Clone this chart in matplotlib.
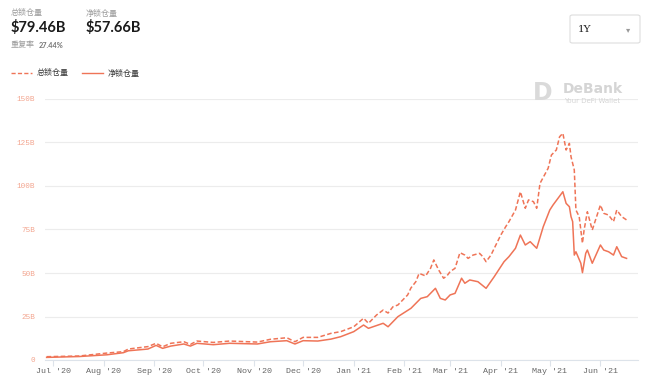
import matplotlib
matplotlib.use("Agg")
import matplotlib.pyplot as plt
import matplotlib.dates as mdates
from matplotlib.patches import FancyBboxPatch
import numpy as np

plt.rcParams['font.family'] = ['Noto Sans CJK SC', 'DejaVu Sans']

# data (billions USD)
total_dates = ["2020-06-27", "2020-07-17", "2020-08-03", "2020-08-13", "2020-08-16",
               "2020-08-28", "2020-09-02", "2020-09-06", "2020-09-11", "2020-09-19",
               "2020-09-23", "2020-09-27", "2020-10-07", "2020-10-17", "2020-11-03",
               "2020-11-11", "2020-11-21", "2020-11-26", "2020-12-01", "2020-12-10",
               "2020-12-18", "2020-12-24", "2021-01-01", "2021-01-07", "2021-01-10",
               "2021-01-15", "2021-01-19", "2021-01-22", "2021-01-25", "2021-01-28",
               "2021-01-31", "2021-02-03", "2021-02-05", "2021-02-08", "2021-02-10",
               "2021-02-14", "2021-02-17", "2021-02-19", "2021-02-22", "2021-02-25",
               "2021-02-27", "2021-03-01", "2021-03-04", "2021-03-07", "2021-03-10",
               "2021-03-12", "2021-03-15", "2021-03-19", "2021-03-21", "2021-03-23",
               "2021-03-26", "2021-03-29", "2021-04-01", "2021-04-04", "2021-04-06",
               "2021-04-10", "2021-04-13", "2021-04-16", "2021-04-18", "2021-04-21",
               "2021-04-23", "2021-04-25", "2021-04-30", "2021-05-02", "2021-05-05",
               "2021-05-07", "2021-05-09", "2021-05-11", "2021-05-13", "2021-05-14",
               "2021-05-16", "2021-05-17", "2021-05-19", "2021-05-21", "2021-05-22",
               "2021-05-24", "2021-05-27", "2021-05-29", "2021-06-01", "2021-06-03",
               "2021-06-06", "2021-06-09", "2021-06-11", "2021-06-14", "2021-06-17"]
total = [1.9, 2.3, 4.0, 4.8, 6.3, 7.7, 9.6, 7.6, 9.6, 10.5,
         9.0, 10.9, 10.1, 10.9, 10.3, 11.9, 12.8, 10.5, 13.0, 13.0,
         15.3, 16.3, 19.1, 24.0, 21.1, 25.9, 28.7, 27.0, 30.6, 31.6,
         34.5, 37.4, 41.4, 45.0, 49.8, 48.3, 52.7, 57.5, 51.7, 47.0,
         48.3, 50.8, 52.7, 61.7, 60.3, 58.4, 60.3, 61.3, 59.4, 56.5,
         60.3, 66.1, 71.8, 76.6, 79.5, 86.2, 96.7, 87.2, 92.0, 91.0,
         87.2, 101.5, 110.2, 117.8, 120.7, 128.3, 130.3, 120.7, 124.5, 116.8,
         109.2, 86.2, 82.4, 67.1, 74.7, 85.2, 74.7, 80.5, 89.1, 84.3,
         83.3, 79.5, 86.2, 82.4, 80.5]

net_dates = ["2020-06-27", "2020-07-17", "2020-08-03", "2020-08-13", "2020-08-16",
             "2020-08-28", "2020-09-02", "2020-09-06", "2020-09-11", "2020-09-19",
             "2020-09-23", "2020-09-27", "2020-10-07", "2020-10-17", "2020-11-03",
             "2020-11-11", "2020-11-21", "2020-11-26", "2020-12-01", "2020-12-10",
             "2020-12-18", "2020-12-24", "2021-01-01", "2021-01-07", "2021-01-10",
             "2021-01-19", "2021-01-22", "2021-01-28", "2021-02-05", "2021-02-11",
             "2021-02-15", "2021-02-20", "2021-02-23", "2021-02-26", "2021-03-01",
             "2021-03-04", "2021-03-08", "2021-03-10", "2021-03-13", "2021-03-18",
             "2021-03-23", "2021-03-28", "2021-04-03", "2021-04-06", "2021-04-10",
             "2021-04-13", "2021-04-16", "2021-04-19", "2021-04-23", "2021-04-27",
             "2021-05-01", "2021-05-03", "2021-05-06", "2021-05-09", "2021-05-11",
             "2021-05-13", "2021-05-14", "2021-05-15", "2021-05-16", "2021-05-17",
             "2021-05-20", "2021-05-21", "2021-05-23", "2021-05-24", "2021-05-27",
             "2021-06-01", "2021-06-03", "2021-06-06", "2021-06-09", "2021-06-11",
             "2021-06-14", "2021-06-17"]
net = [1.5, 2.0, 3.0, 4.2, 5.3, 6.3, 8.4, 6.7, 8.0, 9.2,
       8.0, 9.6, 8.8, 9.6, 9.2, 10.5, 11.1, 9.2, 11.1, 10.9,
       12.0, 13.4, 16.3, 20.1, 18.2, 21.1, 19.1, 24.9, 29.7, 35.4,
       36.4, 41.2, 35.4, 34.5, 37.4, 38.3, 47.0, 44.1, 46.0, 45.0,
       41.2, 47.9, 56.5, 59.4, 64.2, 71.8, 66.1, 68.0, 64.2, 76.6,
       86.2, 89.1, 92.9, 96.7, 90.0, 88.1, 82.4, 79.5, 60.3, 62.2,
       55.6, 50.2, 61.3, 63.2, 55.6, 66.1, 63.2, 62.2, 60.3, 65.1,
       59.4, 58.4]

yticks = [0, 25, 50, 75, 100, 125, 150]
ytick_labels = ["0", "25B", "50B", "75B", "100B", "125B", "150B"]

col = "#ef7457"

fig = plt.figure(figsize=(6.5, 3.88), dpi=100)
ax = fig.add_axes([45/650, 28/388, 593/650, 261/388])

ax.plot(np.array(total_dates, dtype="datetime64[D]"), total, color=col, lw=1.1,
        ls=(0, (3, 1.6)))
ax.plot(np.array(net_dates, dtype="datetime64[D]"), net, color=col, lw=1.1)

ax.set_ylim(0, 150)
ax.set_xlim(np.datetime64("2020-06-26"), np.datetime64("2021-06-24"))
ax.set_yticks(yticks)
ax.set_yticklabels(ytick_labels)
ax.grid(axis="y", color="#ececec", lw=0.8)
ax.set_axisbelow(True)
for s in ["top", "right", "left"]:
    ax.spines[s].set_visible(False)
ax.spines["bottom"].set_color("#dde3ea")
ax.tick_params(axis="y", length=0, pad=7, labelsize=5.5, labelcolor="#f3a58f")
ax.tick_params(axis="x", length=4, color="#dde3ea", pad=2, labelsize=6, labelcolor="#666666")
ax.xaxis.set_major_locator(mdates.MonthLocator())
ax.xaxis.set_major_formatter(mdates.DateFormatter("%b '%y"))
for t in ax.get_yticklabels() + ax.get_xticklabels():
    t.set_fontfamily("Liberation Mono")

# header
fig.text(11/650, 1 - 13/388, "总锁仓量", fontsize=5.8, color="#9a9a9a", va="center")
fig.text(11/650, 1 - 27/388, "$79.46B", fontsize=10.5, color="#1a1a1a", va="center",
         weight="bold", family="Lato")
fig.text(86/650, 1 - 13/388, "净锁仓量", fontsize=5.8, color="#9a9a9a", va="center")
fig.text(86/650, 1 - 27/388, "$57.66B", fontsize=10.5, color="#1a1a1a", va="center",
         weight="bold", family="Lato")
fig.text(11/650, 1 - 45/388, "重复率", fontsize=5.8, color="#9a9a9a", va="center")
fig.text(39/650, 1 - 45/388, "27.44%", fontsize=5.3, color="#777777", va="center",
         family="Lato", weight="bold")

# legend
fig.lines.append(plt.Line2D([11/650, 32/650], [1 - 73/388] * 2, color=col, lw=1,
                            ls=(0, (3, 1.6)), transform=fig.transFigure))
fig.text(37/650, 1 - 73/388, "总锁仓量", fontsize=5.8, color="#333333", va="center")
fig.lines.append(plt.Line2D([82/650, 103/650], [1 - 73/388] * 2, color=col, lw=1,
                            transform=fig.transFigure))
fig.text(108/650, 1 - 73/388, "净锁仓量", fontsize=5.8, color="#333333", va="center")

# 1Y selector
box = FancyBboxPatch((570/650, 1 - 43/388), 70/650, 28/388,
                     boxstyle="round,pad=0,rounding_size=0.004", transform=fig.transFigure,
                     facecolor="white", edgecolor="#dddddd", lw=0.8)
fig.patches.append(box)
fig.text(578/650, 1 - 30/388, "1Y", fontsize=7.5, color="#222222", va="center",
         family="DejaVu Serif")
fig.text(628/650, 1 - 30/388, "▾", fontsize=6, color="#999999", va="center", ha="center",
         family="DejaVu Sans")

# watermark
fig.text(533/650, 1 - 93/388, "D", fontsize=17, color="#dadada", va="center", weight="bold",
         family="DejaVu Sans")
fig.text(563/650, 1 - 89/388, "DeBank", fontsize=10, color="#d5d5d5", va="center", weight="bold",
         family="DejaVu Sans")
fig.text(564/650, 1 - 101/388, "Your DeFi Wallet", fontsize=5, color="#d5d5d5", va="center",
         family="DejaVu Sans")

fig.savefig("out.png", dpi=100)
